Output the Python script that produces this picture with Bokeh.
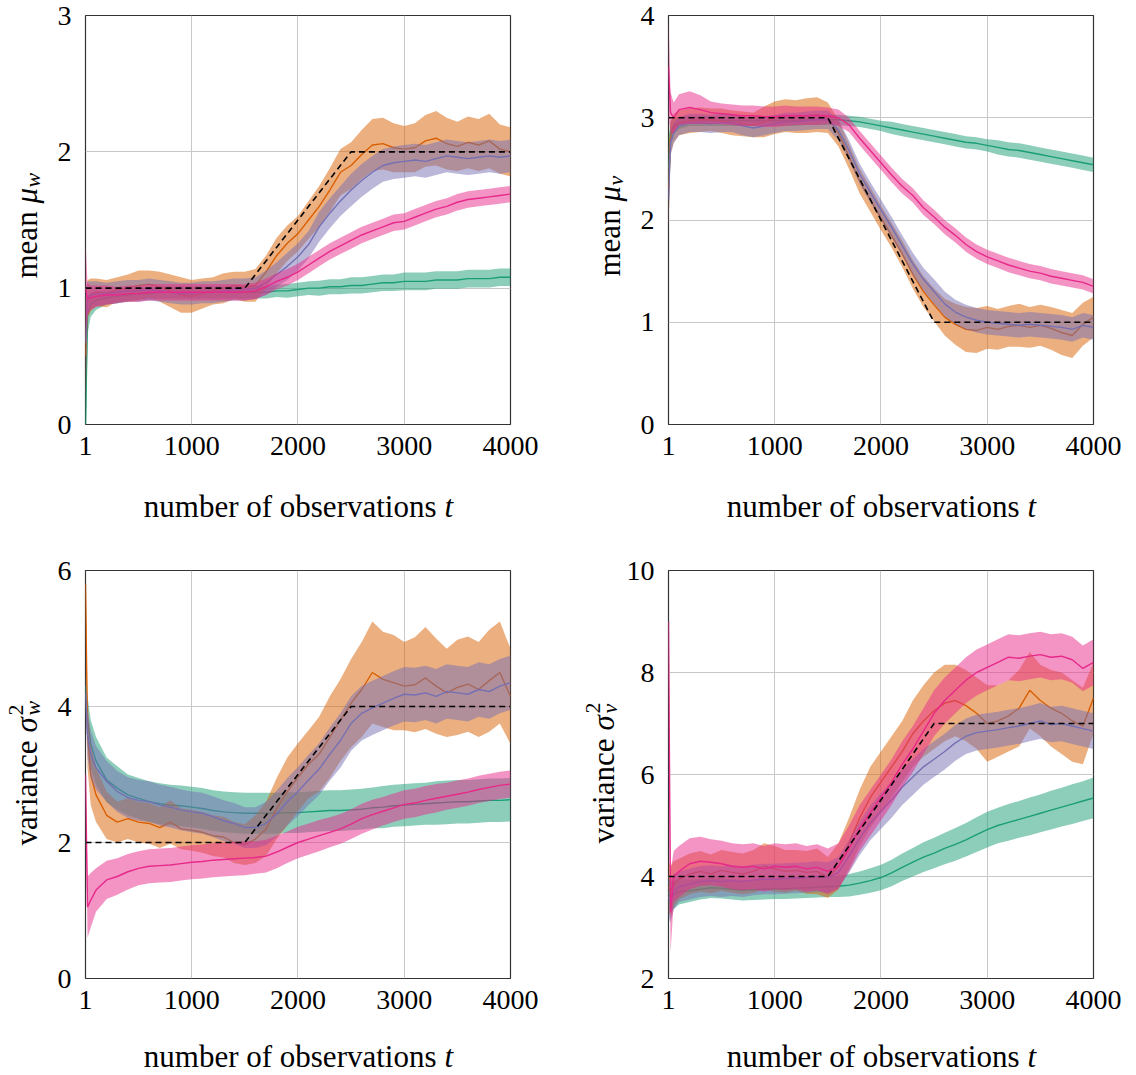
import numpy as np
from bokeh.plotting import figure
from bokeh.layouts import column, row
from bokeh.models import FixedTicker, Label, Range1d
from bokeh.embed import file_html
from bokeh.resources import INLINE

# ---------------- data ----------------
T = [1, 20, 50,
     100, 200, 300, 400, 500, 600, 700, 800, 900, 1000,
     1100, 1200, 1300, 1400, 1500, 1600, 1700, 1800, 1900, 2000,
     2100, 2200, 2300, 2400, 2500, 2600, 2700, 2800, 2900, 3000,
     3100, 3200, 3300, 3400, 3500, 3600, 3700, 3800, 3900, 4000]

TRUTH_T = [1, 1500, 2500, 4000]
MU_W_TRUE = [1, 1, 2, 2]
MU_V_TRUE = [3, 3, 1, 1]
SIG_W_TRUE = [2, 2, 4, 4]
SIG_V_TRUE = [4, 4, 7, 7]

X_TICKS = [1, 1000, 2000, 3000, 4000]

MU_W_GREEN = [0.00, 0.80, 0.88,
              0.91, 0.93, 0.94, 0.95, 0.96, 0.96, 0.97, 0.97, 0.97, 0.97,
              0.97, 0.97, 0.97, 0.97, 0.97, 0.97, 0.97, 0.98, 0.98, 0.99,
              1.00, 1.00, 1.01, 1.01, 1.02, 1.02, 1.03, 1.04, 1.04, 1.05,
              1.05, 1.05, 1.06, 1.06, 1.06, 1.07, 1.07, 1.07, 1.08, 1.08]
MU_W_GREEN_SD = [0.30, 0.14, 0.09,
                 0.07, 0.05, 0.05, 0.045, 0.045, 0.045, 0.045, 0.045, 0.045, 0.045,
                 0.045, 0.045, 0.045, 0.045, 0.045, 0.045, 0.045, 0.045, 0.05, 0.05,
                 0.05, 0.055, 0.055, 0.055, 0.06, 0.06, 0.06, 0.06, 0.06, 0.065,
                 0.065, 0.065, 0.065, 0.065, 0.065, 0.065, 0.065, 0.065, 0.065, 0.065]
MU_W_ORANGE = [0.50, 0.92, 0.95,
               0.97, 0.96, 0.99, 1.00, 1.02, 1.03, 1.01, 0.98, 0.95, 0.94,
               0.96, 0.98, 1.00, 1.02, 1.01, 1.02, 1.12, 1.24, 1.33, 1.40,
               1.50, 1.60, 1.72, 1.85, 1.90, 1.98, 2.05, 2.06, 2.03, 2.02,
               2.03, 2.08, 2.10, 2.06, 2.04, 2.07, 2.05, 2.08, 2.02, 2.00]
MU_W_ORANGE_SD = [0.40, 0.14, 0.12,
                  0.10, 0.10, 0.09, 0.10, 0.11, 0.10, 0.11, 0.12, 0.13, 0.12,
                  0.11, 0.10, 0.11, 0.10, 0.11, 0.12, 0.12, 0.13, 0.13, 0.13,
                  0.14, 0.15, 0.16, 0.17, 0.17, 0.18, 0.19, 0.19, 0.18, 0.17,
                  0.18, 0.19, 0.20, 0.19, 0.18, 0.19, 0.19, 0.20, 0.18, 0.18]
MU_W_PURPLE = [0.60, 0.93, 0.95,
               0.96, 0.96, 0.97, 0.98, 0.98, 0.99, 0.98, 0.97, 0.96, 0.96,
               0.97, 0.97, 0.98, 0.99, 0.99, 1.00, 1.04, 1.10, 1.16, 1.23,
               1.32, 1.45, 1.55, 1.64, 1.72, 1.79, 1.85, 1.90, 1.92, 1.93,
               1.94, 1.93, 1.95, 1.97, 1.96, 1.95, 1.96, 1.97, 1.96, 1.97]
MU_W_PURPLE_SD = [0.40, 0.12, 0.10,
                  0.09, 0.08, 0.08, 0.08, 0.08, 0.08, 0.08, 0.08, 0.08, 0.08,
                  0.08, 0.08, 0.08, 0.08, 0.08, 0.08, 0.09, 0.09, 0.10, 0.10,
                  0.10, 0.11, 0.11, 0.11, 0.12, 0.12, 0.12, 0.12, 0.12, 0.12,
                  0.12, 0.12, 0.12, 0.12, 0.12, 0.12, 0.12, 0.12, 0.12, 0.12]
MU_W_PINK = [1.00, 0.92, 0.93,
             0.94, 0.95, 0.95, 0.96, 0.96, 0.97, 0.97, 0.97, 0.97, 0.97,
             0.97, 0.97, 0.97, 0.97, 0.97, 0.98, 1.01, 1.05, 1.08, 1.12,
             1.17, 1.22, 1.27, 1.31, 1.35, 1.39, 1.42, 1.45, 1.48, 1.49,
             1.52, 1.55, 1.58, 1.60, 1.63, 1.65, 1.66, 1.67, 1.68, 1.69]
MU_W_PINK_SD = [0.35, 0.12, 0.09,
                0.08, 0.07, 0.06, 0.06, 0.06, 0.06, 0.06, 0.06, 0.06, 0.06,
                0.06, 0.06, 0.06, 0.06, 0.06, 0.06, 0.06, 0.06, 0.06, 0.06,
                0.06, 0.06, 0.06, 0.06, 0.06, 0.06, 0.06, 0.06, 0.06, 0.06,
                0.06, 0.06, 0.06, 0.06, 0.06, 0.06, 0.06, 0.06, 0.06, 0.06]

MU_V_GREEN = [2.50, 2.85, 2.92,
              2.95, 2.97, 2.97, 2.97, 2.97, 2.97, 2.97, 2.97, 2.97, 2.97,
              2.97, 2.97, 2.98, 2.98, 2.98, 2.98, 2.97, 2.96, 2.94, 2.92,
              2.90, 2.88, 2.86, 2.84, 2.82, 2.80, 2.78, 2.76, 2.75, 2.73,
              2.71, 2.69, 2.68, 2.66, 2.64, 2.62, 2.60, 2.58, 2.56, 2.54]
MU_V_GREEN_SD = [0.30, 0.12, 0.08,
                 0.06, 0.05, 0.05, 0.05, 0.05, 0.05, 0.05, 0.05, 0.05, 0.05,
                 0.05, 0.05, 0.05, 0.05, 0.05, 0.05, 0.05, 0.05, 0.05, 0.05,
                 0.06, 0.06, 0.06, 0.06, 0.06, 0.06, 0.06, 0.06, 0.06, 0.06,
                 0.07, 0.07, 0.07, 0.07, 0.07, 0.07, 0.07, 0.07, 0.07, 0.07]
MU_V_ORANGE = [2.30, 2.80, 2.90,
               2.95, 2.97, 2.98, 2.98, 2.97, 2.95, 2.94, 2.93, 2.96, 3.00,
               3.02, 3.01, 3.02, 3.03, 3.00, 2.85, 2.62, 2.38, 2.20, 2.02,
               1.85, 1.67, 1.47, 1.30, 1.17, 1.05, 0.98, 0.93, 0.92, 0.95,
               0.93, 0.96, 0.97, 0.95, 0.97, 0.94, 0.90, 0.87, 0.98, 1.05]
MU_V_ORANGE_SD = [0.40, 0.16, 0.14,
                  0.12, 0.12, 0.12, 0.11, 0.12, 0.12, 0.12, 0.12, 0.15, 0.16,
                  0.16, 0.16, 0.17, 0.17, 0.15, 0.13, 0.12, 0.12, 0.12, 0.12,
                  0.12, 0.13, 0.14, 0.15, 0.16, 0.18, 0.20, 0.22, 0.22, 0.21,
                  0.20, 0.20, 0.21, 0.20, 0.20, 0.21, 0.22, 0.22, 0.21, 0.20]
MU_V_PURPLE = [2.20, 2.75, 2.85,
               2.92, 2.95, 2.95, 2.94, 2.95, 2.95, 2.92, 2.90, 2.92, 2.94,
               2.96, 2.96, 2.97, 2.98, 2.98, 2.88, 2.68, 2.45, 2.27, 2.10,
               1.93, 1.75, 1.57, 1.42, 1.30, 1.18, 1.10, 1.05, 1.02, 1.00,
               0.99, 0.98, 0.97, 0.98, 0.97, 0.96, 0.95, 0.93, 0.97, 0.95]
MU_V_PURPLE_SD = [0.30, 0.12, 0.10,
                  0.09, 0.09, 0.09, 0.09, 0.09, 0.09, 0.09, 0.09, 0.09, 0.09,
                  0.09, 0.09, 0.09, 0.09, 0.09, 0.10, 0.10, 0.10, 0.10, 0.10,
                  0.10, 0.10, 0.11, 0.11, 0.12, 0.12, 0.12, 0.12, 0.12, 0.12,
                  0.12, 0.12, 0.12, 0.12, 0.12, 0.12, 0.12, 0.12, 0.12, 0.12]
MU_V_PINK = [3.50, 3.05, 3.00,
             3.08, 3.10, 3.08, 3.05, 3.04, 3.03, 3.02, 3.02, 3.01, 3.01,
             3.02, 3.02, 3.02, 3.02, 3.02, 3.00, 2.93, 2.80, 2.68, 2.56,
             2.44, 2.33, 2.24, 2.12, 2.03, 1.93, 1.85, 1.76, 1.69, 1.64,
             1.60, 1.56, 1.53, 1.50, 1.48, 1.45, 1.43, 1.41, 1.39, 1.35]
MU_V_PINK_SD = [0.50, 0.20, 0.15,
                0.15, 0.16, 0.14, 0.11, 0.10, 0.10, 0.10, 0.10, 0.10, 0.10,
                0.10, 0.09, 0.09, 0.09, 0.08, 0.08, 0.07, 0.07, 0.07, 0.07,
                0.07, 0.07, 0.07, 0.07, 0.07, 0.07, 0.07, 0.07, 0.07, 0.07,
                0.07, 0.07, 0.07, 0.07, 0.07, 0.07, 0.07, 0.07, 0.07, 0.07]

SIG_W_GREEN = [4.30, 3.80, 3.45,
               3.20, 2.92, 2.80, 2.70, 2.65, 2.60, 2.57, 2.55, 2.54, 2.52,
               2.50, 2.47, 2.45, 2.44, 2.43, 2.43, 2.43, 2.43, 2.44, 2.44,
               2.45, 2.46, 2.47, 2.47, 2.48, 2.49, 2.51, 2.52, 2.54, 2.55,
               2.56, 2.57, 2.58, 2.59, 2.60, 2.60, 2.61, 2.62, 2.62, 2.63]
SIG_W_GREEN_SD = [0.15, 0.35, 0.35,
                  0.35, 0.33, 0.32, 0.30, 0.30, 0.30, 0.30, 0.30, 0.30, 0.30,
                  0.30, 0.30, 0.30, 0.30, 0.30, 0.30, 0.30, 0.30, 0.30, 0.30,
                  0.30, 0.30, 0.30, 0.30, 0.30, 0.30, 0.30, 0.31, 0.31, 0.31,
                  0.31, 0.31, 0.32, 0.32, 0.32, 0.32, 0.32, 0.32, 0.32, 0.32]
SIG_W_ORANGE = [5.80, 3.60, 3.00,
                2.70, 2.40, 2.30, 2.35, 2.30, 2.28, 2.22, 2.30, 2.20, 2.18,
                2.15, 2.10, 2.08, 2.00, 1.97, 2.05, 2.20, 2.50, 2.75, 2.96,
                3.15, 3.30, 3.55, 3.80, 4.05, 4.25, 4.50, 4.40, 4.35, 4.30,
                4.32, 4.42, 4.30, 4.20, 4.28, 4.33, 4.25, 4.38, 4.50, 4.15]
SIG_W_ORANGE_SD = [0.30, 0.50, 0.45,
                   0.40, 0.35, 0.30, 0.30, 0.30, 0.30, 0.30, 0.32, 0.30, 0.30,
                   0.30, 0.30, 0.30, 0.30, 0.30, 0.35, 0.40, 0.45, 0.50, 0.50,
                   0.50, 0.55, 0.60, 0.60, 0.65, 0.70, 0.75, 0.70, 0.70, 0.65,
                   0.70, 0.75, 0.70, 0.65, 0.70, 0.70, 0.70, 0.75, 0.75, 0.70]
SIG_W_PURPLE = [4.20, 3.60, 3.30,
                3.10, 2.90, 2.75, 2.66, 2.62, 2.60, 2.55, 2.52, 2.48, 2.45,
                2.43, 2.38, 2.32, 2.28, 2.22, 2.22, 2.28, 2.42, 2.60, 2.75,
                2.92, 3.08, 3.30, 3.50, 3.75, 3.90, 3.98, 4.05, 4.12, 4.18,
                4.17, 4.20, 4.15, 4.22, 4.20, 4.18, 4.25, 4.22, 4.30, 4.35]
SIG_W_PURPLE_SD = [0.30, 0.35, 0.35,
                   0.32, 0.30, 0.30, 0.30, 0.30, 0.30, 0.30, 0.30, 0.30, 0.30,
                   0.30, 0.30, 0.30, 0.30, 0.30, 0.30, 0.32, 0.34, 0.35, 0.36,
                   0.37, 0.38, 0.39, 0.40, 0.40, 0.40, 0.40, 0.40, 0.40, 0.40,
                   0.40, 0.40, 0.40, 0.40, 0.40, 0.40, 0.40, 0.40, 0.40, 0.40]
SIG_W_PINK = [3.00, 1.05, 1.15,
              1.30, 1.45, 1.50, 1.57, 1.62, 1.65, 1.66, 1.67, 1.69, 1.71,
              1.72, 1.74, 1.75, 1.76, 1.77, 1.78, 1.80, 1.86, 1.93, 2.00,
              2.05, 2.10, 2.15, 2.20, 2.27, 2.35, 2.41, 2.46, 2.51, 2.56,
              2.58, 2.62, 2.65, 2.68, 2.71, 2.74, 2.78, 2.81, 2.84, 2.86]
SIG_W_PINK_SD = [0.05, 0.45, 0.40,
                 0.32, 0.28, 0.27, 0.26, 0.25, 0.25, 0.25, 0.25, 0.25, 0.25,
                 0.25, 0.25, 0.25, 0.25, 0.25, 0.24, 0.24, 0.24, 0.23, 0.23,
                 0.23, 0.23, 0.22, 0.22, 0.22, 0.22, 0.22, 0.21, 0.21, 0.21,
                 0.21, 0.21, 0.21, 0.20, 0.20, 0.20, 0.20, 0.20, 0.20, 0.20]

SIG_V_GREEN = [3.70, 3.60, 3.65,
               3.70, 3.72, 3.75, 3.78, 3.77, 3.75, 3.73, 3.74, 3.75, 3.76,
               3.76, 3.77, 3.78, 3.79, 3.80, 3.81, 3.83, 3.87, 3.92, 3.98,
               4.07, 4.18, 4.28, 4.38, 4.46, 4.55, 4.63, 4.72, 4.82, 4.92,
               5.00, 5.06, 5.12, 5.18, 5.24, 5.30, 5.36, 5.42, 5.48, 5.54]
SIG_V_GREEN_SD = [0.30, 0.30, 0.28,
                  0.25, 0.22, 0.20, 0.20, 0.20, 0.20, 0.20, 0.20, 0.20, 0.20,
                  0.20, 0.20, 0.20, 0.20, 0.20, 0.21, 0.22, 0.23, 0.24, 0.25,
                  0.26, 0.27, 0.28, 0.29, 0.30, 0.31, 0.32, 0.33, 0.34, 0.35,
                  0.35, 0.36, 0.36, 0.37, 0.37, 0.38, 0.38, 0.39, 0.39, 0.40]
SIG_V_ORANGE = [3.80, 3.70, 3.85,
                3.95, 4.05, 4.10, 4.05, 4.12, 4.08, 4.05, 4.10, 4.20, 4.15,
                4.10, 4.12, 4.08, 4.10, 3.98, 4.20, 4.65, 5.15, 5.55, 5.85,
                6.15, 6.45, 6.80, 7.05, 7.25, 7.40, 7.45, 7.35, 7.20, 7.00,
                7.05, 7.15, 7.30, 7.65, 7.45, 7.30, 7.20, 7.05, 6.95, 7.50]
SIG_V_ORANGE_SD = [0.50, 0.50, 0.45,
                   0.40, 0.40, 0.40, 0.38, 0.40, 0.40, 0.40, 0.42, 0.45, 0.45,
                   0.42, 0.40, 0.42, 0.45, 0.40, 0.45, 0.50, 0.55, 0.60, 0.60,
                   0.60, 0.60, 0.65, 0.70, 0.75, 0.75, 0.70, 0.70, 0.70, 0.75,
                   0.70, 0.70, 0.75, 0.75, 0.70, 0.75, 0.80, 0.80, 0.75, 0.70]
SIG_V_PURPLE = [3.60, 3.50, 3.70,
                3.80, 3.85, 3.90, 3.92, 3.90, 3.92, 3.90, 3.93, 3.95, 3.95,
                3.96, 3.97, 3.98, 4.00, 3.98, 4.08, 4.40, 4.75, 5.05, 5.28,
                5.50, 5.75, 5.95, 6.15, 6.30, 6.45, 6.62, 6.75, 6.82, 6.85,
                6.88, 6.92, 6.95, 7.00, 7.05, 6.98, 7.00, 6.95, 6.90, 6.85]
SIG_V_PURPLE_SD = [0.40, 0.40, 0.35,
                   0.30, 0.30, 0.30, 0.30, 0.30, 0.30, 0.30, 0.30, 0.30, 0.30,
                   0.30, 0.30, 0.30, 0.30, 0.30, 0.30, 0.32, 0.33, 0.34, 0.35,
                   0.35, 0.35, 0.35, 0.35, 0.35, 0.35, 0.35, 0.35, 0.35, 0.35,
                   0.35, 0.35, 0.35, 0.35, 0.35, 0.35, 0.35, 0.35, 0.35, 0.35]
SIG_V_PINK = [9.00, 3.30, 4.00,
              4.10, 4.25, 4.30, 4.28, 4.25, 4.20, 4.18, 4.20, 4.15, 4.20,
              4.18, 4.20, 4.15, 4.18, 4.10, 4.20, 4.55, 4.95, 5.25, 5.55,
              5.85, 6.20, 6.50, 6.85, 7.20, 7.45, 7.65, 7.85, 8.00, 8.10,
              8.20, 8.30, 8.28, 8.32, 8.35, 8.30, 8.32, 8.25, 8.08, 8.20]
SIG_V_PINK_SD = [0.10, 0.80, 0.50,
                 0.50, 0.50, 0.48, 0.45, 0.45, 0.45, 0.45, 0.45, 0.45, 0.45,
                 0.45, 0.45, 0.45, 0.45, 0.45, 0.45, 0.45, 0.45, 0.45, 0.45,
                 0.45, 0.45, 0.45, 0.45, 0.45, 0.45, 0.45, 0.45, 0.45, 0.45,
                 0.45, 0.45, 0.45, 0.45, 0.45, 0.45, 0.45, 0.45, 0.45, 0.45]

COLORS = ["#1b9e77", "#d95f02", "#7570b3", "#e7298a"]

FONT = "Liberation Serif"
TICK_SIZE = "28px"
LABEL_SIZE = "31px"
SMALL_SIZE = "22px"

FRAME_W = 425
BOTTOM_BORDER = 45
BASE_SHIFT = 9   # renderer places alphabetic baseline this far "below" the anchor


def chart(series, truth, y_lo, y_hi, y_ticks, frame_h, border_top, border_left,
          border_right):
    p = figure(frame_width=FRAME_W, frame_height=frame_h,
               x_range=Range1d(1, 4000), y_range=Range1d(y_lo, y_hi),
               output_backend="svg", toolbar_location=None,
               min_border_left=border_left, min_border_right=border_right,
               min_border_top=border_top, min_border_bottom=BOTTOM_BORDER,
               background_fill_color="white", border_fill_color="white")
    p.outline_line_color = "#333333"
    p.outline_line_width = 1.2
    p.xaxis.ticker = FixedTicker(ticks=X_TICKS)
    p.yaxis.ticker = FixedTicker(ticks=y_ticks)
    for ax in (p.xaxis[0], p.yaxis[0]):
        ax.axis_line_color = None
        ax.major_tick_line_color = None
        ax.minor_tick_line_color = None
        ax.major_label_text_font = FONT
        ax.major_label_text_font_size = TICK_SIZE
        ax.major_label_text_color = "black"
    p.xaxis.major_label_standoff = 6
    p.yaxis.major_label_standoff = 8
    p.grid.grid_line_color = "#c8c8c8"
    p.grid.grid_line_width = 1

    for (mean, sd), c in zip(series, COLORS):
        m = np.array(mean)
        s = np.array(sd)
        p.varea(x=T, y1=m - s, y2=m + s, fill_color=c, fill_alpha=0.5)
        p.line(T, mean, line_color=c, line_width=1.4)
    p.line(TRUTH_T, truth, line_color="black", line_width=1.6, line_dash="6 4")
    return p


def text_fig(w, frame_h, b_top=0, b_bottom=0):
    f = figure(frame_width=w, frame_height=frame_h,
               x_range=Range1d(0, w), y_range=Range1d(0, frame_h),
               x_axis_location=None, y_axis_location=None,
               output_backend="svg", toolbar_location=None,
               min_border_left=0, min_border_right=0,
               min_border_top=b_top, min_border_bottom=b_bottom,
               outline_line_color=None, background_fill_color="white",
               border_fill_color="white")
    f.grid.visible = False
    return f


def lab(f, txt, x, y, size, style="normal", angle=0.0, align="left"):
    f.add_layout(Label(x=x, y=y, text=txt, angle=angle, text_align=align,
                       text_baseline="alphabetic", text_font=FONT,
                       text_font_size=size, text_font_style=style,
                       text_color="black"))


def y_label_fig(w, frame_h, b_top, base_x, y0, kind, sub):
    f = text_fig(w, frame_h, b_top, BOTTOM_BORDER)
    a = np.pi / 2
    bx = base_x - BASE_SHIFT
    if kind == "mean":
        lab(f, "mean", bx, y0, LABEL_SIZE, angle=a)
        lab(f, "μ", bx, y0 + 75, LABEL_SIZE, "italic", angle=a)
        lab(f, sub, bx + 6, y0 + 91, SMALL_SIZE, "italic", angle=a)
    else:
        lab(f, "variance", bx, y0, LABEL_SIZE, angle=a)
        lab(f, "σ", bx, y0 + 113, LABEL_SIZE, "italic", angle=a)
        lab(f, "2", bx - 11, y0 + 130, SMALL_SIZE, angle=a)
        lab(f, sub, bx + 6, y0 + 130, SMALL_SIZE, "italic", angle=a)
    return f


def x_label_fig(w, h, split_x, base_y):
    f = text_fig(w, h)
    by = base_y + 4
    lab(f, "number of observations", split_x, by, LABEL_SIZE, align="right")
    lab(f, "t", split_x + 8, by, LABEL_SIZE, "italic")
    return f


def cell(series, truth, y_lo, y_hi, y_ticks, frame_h, border_top, kind, sub,
         left_w, border_left, border_right, base_x, y0, xlab_h, xlab_base):
    p = chart(series, truth, y_lo, y_hi, y_ticks, frame_h, border_top,
              border_left, border_right)
    yl = y_label_fig(left_w, frame_h, border_top, base_x, y0, kind, sub)
    xl = x_label_fig(left_w + border_left + FRAME_W + border_right, xlab_h,
                     left_w + border_left + 351, xlab_base)
    return column(row(yl, p), xl)


c1 = cell([(MU_W_GREEN, MU_W_GREEN_SD), (MU_W_ORANGE, MU_W_ORANGE_SD),
           (MU_W_PURPLE, MU_W_PURPLE_SD), (MU_W_PINK, MU_W_PINK_SD)],
          MU_W_TRUE, 0, 3, [0, 1, 2, 3], 409, 15, "mean", "w",
          45, 40, 58, 35, 146, 71, 30)
c2 = cell([(MU_V_GREEN, MU_V_GREEN_SD), (MU_V_ORANGE, MU_V_ORANGE_SD),
           (MU_V_PURPLE, MU_V_PURPLE_SD), (MU_V_PINK, MU_V_PINK_SD)],
          MU_V_TRUE, 0, 4, [0, 1, 2, 3, 4], 409, 15, "mean", "v",
          60, 40, 43, 50, 148, 71, 30)
c3 = cell([(SIG_W_GREEN, SIG_W_GREEN_SD), (SIG_W_ORANGE, SIG_W_ORANGE_SD),
           (SIG_W_PURPLE, SIG_W_PURPLE_SD), (SIG_W_PINK, SIG_W_PINK_SD)],
          SIG_W_TRUE, 0, 6, [0, 2, 4, 6], 408, 30, "var", "w",
          45, 40, 58, 35, 133, 52, 15)
c4 = cell([(SIG_V_GREEN, SIG_V_GREEN_SD), (SIG_V_ORANGE, SIG_V_ORANGE_SD),
           (SIG_V_PURPLE, SIG_V_PURPLE_SD), (SIG_V_PINK, SIG_V_PINK_SD)],
          SIG_V_TRUE, 2, 10, [2, 4, 6, 8, 10], 408, 30, "var", "v",
          54, 46, 43, 44, 135, 52, 15)

layout = column(row(c1, c2), row(c3, c4))
open("out.html", "w").write(file_html(layout, INLINE))
